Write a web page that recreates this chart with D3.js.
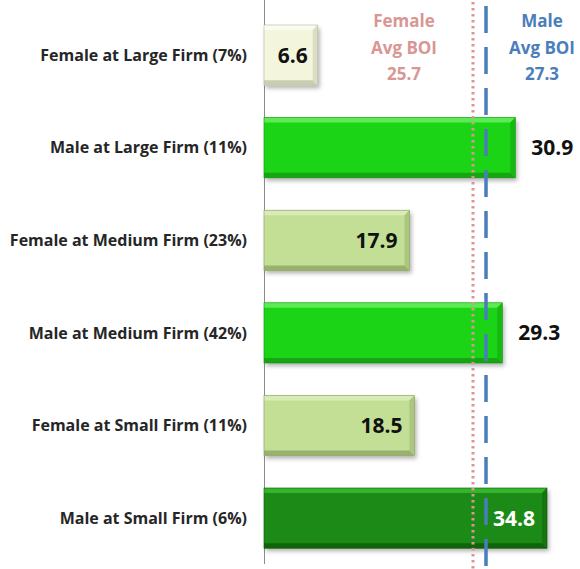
<!DOCTYPE html>
<html>
<head>
<meta charset="utf-8">
<script src="https://cdn.jsdelivr.net/npm/d3@7"></script>
<style>
	body { margin: 0; background: #fff; }
	text { font-family: "Open Sans", Lato, sans-serif; font-weight: 700; }
</style>
</head>
<body>
<script>
// categories, top to bottom
var categories = [
	'Female at Large Firm (7%)',
	'Male at Large Firm (11%)',
	'Female at Medium Firm (23%)',
	'Male at Medium Firm (42%)',
	'Female at Small Firm (11%)',
	'Male at Small Firm (6%)'
];
var values = [6.6, 30.9, 17.9, 29.3, 18.5, 34.8];
var femaleAvg = 25.7;
var maleAvg = 27.3;

var w = 580, h = 569;

// bar colours: [face, top edge, bottom edge, right edge]
var palette = [
	['#f3f6dc', '#fbfcef', '#c9ceb2', '#dadfc4'],
	['#1fd419', '#5ceb55', '#15a611', '#18b813'],
	['#c3de95', '#d9ebb7', '#98b16c', '#aac67f'],
	['#1fd419', '#5ceb55', '#15a611', '#18b813'],
	['#c3de95', '#d9ebb7', '#98b16c', '#aac67f'],
	['#1b8a13', '#34b52b', '#11630b', '#15750e']
];

var svg = d3.select('body')
	.append('svg')
	.attr('width', w)
	.attr('height', h);

var defs = svg.append('defs');
var shadow = defs.append('filter')
	.attr('id', 'shadow')
	.attr('x', '-10%').attr('y', '-20%')
	.attr('width', '130%').attr('height', '150%');
shadow.append('feDropShadow')
	.attr('dx', 2).attr('dy', 3)
	.attr('stdDeviation', 2)
	.attr('flood-color', '#000')
	.attr('flood-opacity', 0.3);

var x = d3.scaleLinear()
	.domain([0, 34.8])
	.range([264, 547]);

var y = d3.scaleBand()
	.domain(categories)
	.range([8.8, 564.4])
	.paddingInner(0.35)
	.paddingOuter(0.175);

// axis line
svg.append('line')
	.attr('x1', 264.5).attr('x2', 264.5)
	.attr('y1', 0).attr('y2', 564)
	.attr('stroke', '#8c8c8c')
	.attr('stroke-width', 1);

// category labels
svg.selectAll('text.cat')
	.data(categories)
	.enter()
	.append('text')
	.attr('class', 'cat')
	.attr('x', 247)
	.attr('y', function(d) { return y(d) + y.bandwidth() / 2; })
	.attr('dy', '0.35em')
	.attr('text-anchor', 'end')
	.attr('font-size', 16)
	.attr('fill', '#262626')
	.text(function(d) { return d; });

// bars with bevel
var b = 5;
var bars = svg.selectAll('g.bar')
	.data(values)
	.enter()
	.append('g')
	.attr('class', 'bar');

bars.each(function(d, i) {
	var g = d3.select(this);
	var x0 = x(0), x1 = x(d);
	var y0 = y(categories[i]), y1 = y0 + y.bandwidth();
	var c = palette[i];
	g.append('rect')
		.attr('x', x0).attr('y', y0)
		.attr('width', x1 - x0).attr('height', y1 - y0)
		.attr('fill', c[0])
		.attr('filter', 'url(#shadow)');
	g.append('polygon')
		.attr('points', [[x0, y0], [x1, y0], [x1 - b, y0 + b], [x0, y0 + b]].join(' '))
		.attr('fill', c[1]);
	g.append('polygon')
		.attr('points', [[x0, y1], [x1, y1], [x1 - b, y1 - b], [x0, y1 - b]].join(' '))
		.attr('fill', c[2]);
	g.append('polygon')
		.attr('points', [[x1, y0], [x1, y1], [x1 - b, y1 - b], [x1 - b, y0 + b]].join(' '))
		.attr('fill', c[3]);
	g.append('rect')
		.attr('x', x0).attr('y', y0)
		.attr('width', x1 - x0).attr('height', y1 - y0)
		.attr('fill', 'none')
		.attr('stroke', d3.color(c[2]).darker(0.3))
		.attr('stroke-width', 0.6);
});

// average lines
svg.append('line')
	.attr('x1', x(femaleAvg)).attr('x2', x(femaleAvg))
	.attr('y1', 2).attr('y2', h)
	.attr('stroke', '#d99694')
	.attr('stroke-width', 3)
	.attr('stroke-dasharray', '2.5,3.5');

svg.append('line')
	.attr('x1', x(maleAvg)).attr('x2', x(maleAvg))
	.attr('y1', 6).attr('y2', h)
	.attr('stroke', '#4a7ebb')
	.attr('stroke-width', 3.5)
	.attr('stroke-dasharray', '27,14');

// value labels
bars.append('text')
	.attr('x', function(d, i) {
		if (i === 0) return (x(0) + x(d)) / 2 + 2;
		if (i === 1 || i === 3) return x(d) + 16;
		return x(d) - 12;
	})
	.attr('y', function(d, i) { return y(categories[i]) + y.bandwidth() / 2; })
	.attr('dy', '0.36em')
	.attr('text-anchor', function(d, i) {
		if (i === 0) return 'middle';
		if (i === 1 || i === 3) return 'start';
		return 'end';
	})
	.attr('font-size', 21)
	.attr('fill', function(d, i) { return i === 5 ? '#fff' : '#111'; })
	.text(function(d) { return d.toFixed(1); });

// average captions
function caption(cx, lines, color) {
	svg.append('g')
		.selectAll('text')
		.data(lines)
		.enter()
		.append('text')
		.attr('x', cx)
		.attr('y', function(d, i) { return 27 + i * 26.5; })
		.attr('text-anchor', 'middle')
		.attr('font-size', 17)
		.attr('fill', color)
		.text(function(d) { return d; });
}
caption(404, ['Female', 'Avg BOI', femaleAvg.toFixed(1)], '#d99694');
caption(542, ['Male', 'Avg BOI', maleAvg.toFixed(1)], '#4a7ebb');
</script>
</body>
</html>
